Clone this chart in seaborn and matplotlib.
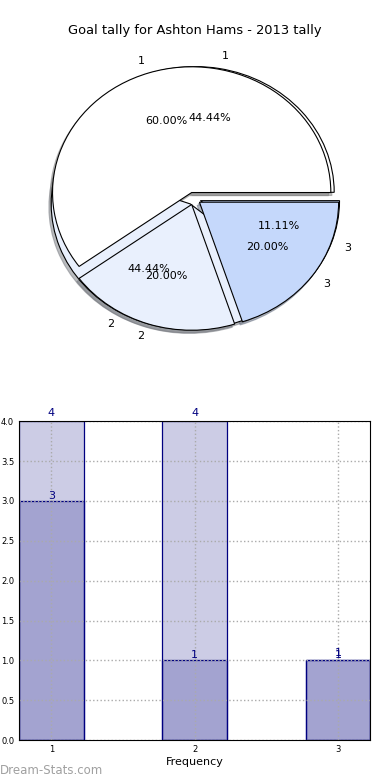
import seaborn as sns
import numpy as np
import pandas as pd
import matplotlib
matplotlib.use('Agg')
import matplotlib.pyplot as plt

# data
goals = ['1', '2', '3']
tally_a = [4, 4, 1]        # back series / lower pie
tally_b = [3, 1, 1]        # front series / upper pie
pie_colors = ['#ffffff', '#e9f0fd', '#c5d8fb']
title = 'Goal tally for Ashton Hams - 2013 tally'

sns.set_style('white')
plt.rcParams['font.family'] = ['DejaVu Sans']
plt.rcParams['text.color'] = 'black'
plt.rcParams['xtick.color'] = 'black'
plt.rcParams['ytick.color'] = 'black'
plt.rcParams['axes.labelcolor'] = 'black'

fig = plt.figure(figsize=(3.9, 7.8), dpi=100)
fig.text(0.5, 0.961, title, ha='center', va='center', fontsize=9.4)

# pie: two pies stacked on top of each other
ax1 = fig.add_axes([0.051, 0.544, 0.892, 0.403])
for vals in (tally_a, tally_b):
    wedges, texts, autotexts = ax1.pie(vals, labels=goals, colors=pie_colors,
                                       explode=(0.05, 0.05, 0.05),
                                       shadow=dict(ox=-0.012, oy=-0.018, shade=0.5),
                                       autopct='%.2f%%', startangle=0,
                                       wedgeprops=dict(edgecolor='black', linewidth=0.8),
                                       textprops=dict(fontsize=8, color='black'))
ax1.set_aspect('auto')
ax1.set_xlim(-1.25, 1.25)
ax1.set_ylim(-1.25, 1.25)

# bars
ax2 = fig.add_axes([0.049, 0.051, 0.900, 0.409])
pos = [1, 2, 3]
for vals in (tally_a, tally_b):
    df = pd.DataFrame({'goal': pos, 'n': vals})
    sns.barplot(data=df, x='goal', y='n', ax=ax2, native_scale=True, width=0.45,
                color='navy', saturation=1, errorbar=None)
for p in ax2.patches:
    p.set_facecolor((0, 0, 0.502, 0.2))
    p.set_edgecolor('navy')
    p.set_linewidth(0.9)
for c, pad in zip(ax2.containers, (2, 0)):
    ax2.bar_label(c, color='navy', fontsize=8, padding=pad)

ax2.set_xlim(0.775, 3.225)
ax2.set_ylim(0, 4)
ax2.set_xticks(pos)
ax2.set_xticklabels(goals)
ax2.set_yticks(np.arange(0, 4.01, 0.5))
ax2.tick_params(labelsize=6, length=3, direction='in')
ax2.grid(True, linestyle=':', color='#aaaaaa', linewidth=1)
ax2.set_axisbelow(False)
ax2.set_xlabel('Frequency', fontsize=8, labelpad=2)
ax2.set_ylabel('')
for s in ax2.spines.values():
    s.set_color('black')
    s.set_linewidth(0.8)
    s.set_zorder(3)

fig.text(0.0, 0.004, 'Dream-Stats.com', color='#a0a0a0', fontsize=8.5,
         ha='left', va='bottom')

fig.savefig('out.png', dpi=100)
